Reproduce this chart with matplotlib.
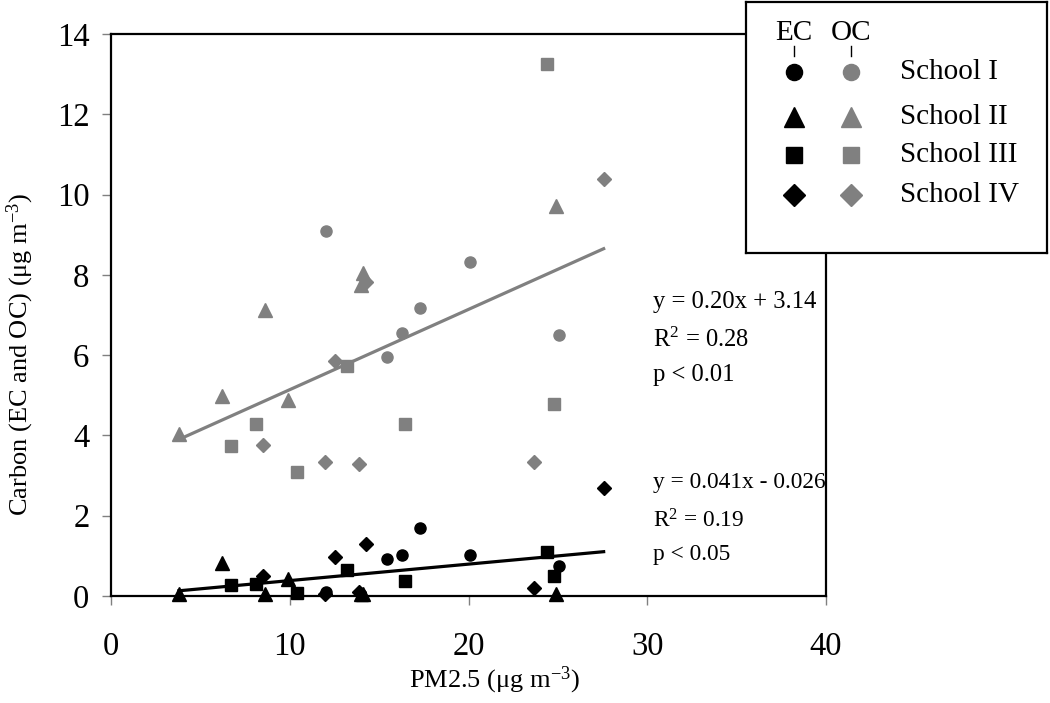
import numpy as np
import matplotlib.pyplot as plt
from matplotlib.lines import Line2D

plt.rcParams['font.family'] = ['Liberation Serif', 'DejaVu Serif']
plt.rcParams['mathtext.fontset'] = 'custom'
plt.rcParams['mathtext.rm'] = 'Liberation Serif'
plt.rcParams['mathtext.it'] = 'Liberation Serif:italic'

# PM2.5 and carbon (ug m-3) per school
schools = ['School I', 'School II', 'School III', 'School IV']
markers = ['o', '^', 's', 'D']
msizes = [8, 9.5, 8, 7.5]

pm_1 = [12.0, 15.44, 16.3, 17.3, 20.1, 25.05]
ec_1 = [0.10, 0.93, 1.03, 1.70, 1.03, 0.75]
oc_1 = [9.09, 5.96, 6.55, 7.17, 8.31, 6.49]

pm_2 = [3.8, 6.2, 8.64, 9.9, 14.0, 14.1, 24.9]
ec_2 = [0.05, 0.81, 0.05, 0.43, 0.06, 0.05, 0.05]
oc_2 = [4.03, 4.98, 7.12, 4.88, 7.76, 8.04, 9.72]

pm_3 = [6.74, 8.14, 10.41, 13.2, 16.42, 24.38, 24.8]
ec_3 = [0.27, 0.31, 0.08, 0.66, 0.37, 1.10, 0.50]
oc_3 = [3.73, 4.29, 3.09, 5.73, 4.29, 13.26, 4.78]

pm_4 = [8.51, 11.96, 12.51, 13.87, 14.28, 23.69, 27.56]
ec_4 = [0.49, 0.05, 0.97, 0.10, 1.29, 0.21, 2.68]
oc_4 = [3.75, 3.35, 5.85, 3.28, 7.83, 3.35, 10.39]

pm_all = [pm_1, pm_2, pm_3, pm_4]
ec_all = [ec_1, ec_2, ec_3, ec_4]
oc_all = [oc_1, oc_2, oc_3, oc_4]

# regression results printed on the chart
oc_slope, oc_icpt = 0.20, 3.14
ec_slope, ec_icpt = 0.041, -0.026
oc_text = ['y = 0.20x + 3.14', 'R$^{\\mathdefault{2}}$ = 0.28', 'p < 0.01']
ec_text = ['y = 0.041x - 0.026', 'R$^{\\mathdefault{2}}$ = 0.19', 'p < 0.05']

black = '#000000'
gray = '#808080'

fig = plt.figure(figsize=(10.5, 7.03), dpi=100)
ax = fig.add_axes([0.1057, 0.1522, 0.681, 0.7994])

for pm, ec, oc, m, ms in zip(pm_all, ec_all, oc_all, markers, msizes):
    ax.plot(pm, oc, ls='none', marker=m, ms=ms, color=gray, mec=gray, clip_on=False, zorder=3)
    ax.plot(pm, ec, ls='none', marker=m, ms=ms, color=black, mec=black, clip_on=False, zorder=4)

xs = np.array([min(min(p) for p in pm_all), max(max(p) for p in pm_all)])
ax.plot(xs, oc_slope * xs + oc_icpt, color=gray, lw=2.3, zorder=2)
ax.plot(xs, ec_slope * xs + ec_icpt, color=black, lw=2.3, zorder=2)

for txt, yy in zip(oc_text, [7.33, 6.38, 5.5]):
    ax.text(30.3, yy, txt, fontsize=17.7, va='center', ha='left')
for txt, yy in zip(ec_text, [2.84, 1.88, 1.03]):
    ax.text(30.3, yy, txt, fontsize=16.8, va='center', ha='left')

ax.set_xlim(0, 40)
ax.set_ylim(0, 14)
ax.set_xticks([0, 10, 20, 30, 40])
ax.set_yticks(np.arange(0, 15, 2))
ax.tick_params(direction='out', length=6.5, width=1, color=gray, labelsize=23.5)
ax.tick_params(axis='x', pad=19)
ax.tick_params(axis='y', pad=9)
for sp in ax.spines.values():
    sp.set_linewidth(1.6)
    sp.set_color(black)

fig.text(0.471, 0.010, 'PM2.5 (\u03bcg m$^{\\mathdefault{-3}}$)', fontsize=19, ha='center', va='bottom')
fig.text(0.019, 0.496, 'Carbon (EC and OC) (\u03bcg m$^{\\mathdefault{-3}}$)', fontsize=19,
         rotation=90, ha='center', va='center')

# legend box with EC / OC columns
lax = fig.add_axes([0.7105, 0.640, 0.2866, 0.357])
lax.set_xlim(0, 301)
lax.set_ylim(251, 0)
lax.set_xticks([])
lax.set_yticks([])
for sp in lax.spines.values():
    sp.set_linewidth(1.6)
    sp.set_color(black)
lax.set_zorder(5)
lax.text(48, 31, 'EC', fontsize=21, ha='center', va='center')
lax.text(105, 31, 'OC', fontsize=21, ha='center', va='center')
lax.add_line(Line2D([48, 48], [44, 54], color=black, lw=1))
lax.add_line(Line2D([105, 105], [44, 54], color=black, lw=1))
for i, (name, m, ms) in enumerate(zip(schools, markers, msizes)):
    yy = [70, 115, 153, 193][i]
    lax.plot([48], [yy], marker=m, ms=ms * 1.45, color=black, ls='none')
    lax.plot([105], [yy], marker=m, ms=ms * 1.45, color=gray, ls='none')
    lax.text(154, yy, name, fontsize=21, ha='left', va='center')

fig.savefig('out.png', dpi=100)
